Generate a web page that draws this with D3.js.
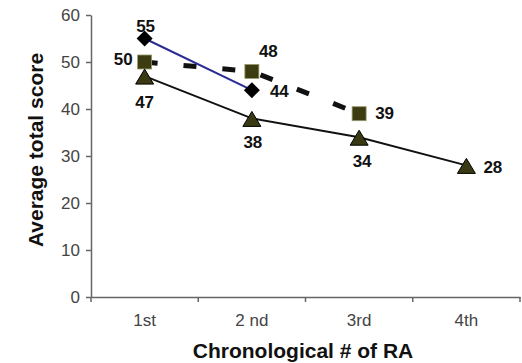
<!DOCTYPE html>
<html>
<head>
<meta charset="utf-8">
<script src="https://cdn.jsdelivr.net/npm/d3@7"></script>
<style>
  body { margin: 0; background: #fff; }
  svg { display: block; font-family: Arial, "Liberation Sans", sans-serif; }
</style>
</head>
<body>
<svg id="chart" width="522" height="363"></svg>
<script>
const categories = ["1st", "2 nd", "3rd", "4th"];
const diamondValues = [55, 44];
const squareValues = [50, 48, 39];
const triangleValues = [47, 38, 34, 28];
const yTicks = [0, 10, 20, 30, 40, 50, 60];

const svg = d3.select("#chart");
const margin = { left: 91, right: 2, top: 15, bottom: 66 };
const width = 522, height = 363;

const x = d3.scaleBand().domain(categories).range([margin.left, width - margin.right]);
const y = d3.scaleLinear().domain([0, 60]).range([height - margin.bottom, margin.top]);
const cx = d => x(d) + x.bandwidth() / 2;

// axes
const yAxis = svg.append("g")
  .attr("transform", `translate(${margin.left},0)`)
  .call(d3.axisLeft(y).tickValues(yTicks).tickSize(5).tickPadding(6).tickSizeOuter(0));
yAxis.select(".domain").attr("stroke", "#666").attr("stroke-width", 1.5);
yAxis.selectAll(".tick line").attr("stroke", "#666").attr("stroke-width", 1.5);
yAxis.selectAll("text").attr("font-size", 17).attr("fill", "#444").attr("font-family", "Arial, sans-serif");

const xAxis = svg.append("g")
  .attr("transform", `translate(0,${y(0)})`)
  .call(d3.axisBottom(x).tickSize(0).tickSizeOuter(0));
xAxis.select(".domain").attr("stroke", "#666").attr("stroke-width", 1.5);
xAxis.selectAll("text").attr("font-size", 17).attr("fill", "#444")
  .attr("font-family", "Arial, sans-serif").attr("y", 29).attr("dy", 0);
// tick marks at band boundaries
const bounds = categories.map(c => x(c)).concat([x(categories[categories.length - 1]) + x.bandwidth()]);
xAxis.selectAll(".bnd").data(bounds).join("line")
  .attr("x1", d => d).attr("x2", d => d).attr("y1", 0).attr("y2", 5)
  .attr("stroke", "#666").attr("stroke-width", 1.5);

svg.append("text")
  .attr("transform", `translate(43,150) rotate(-90)`)
  .attr("text-anchor", "middle").attr("font-size", 21).attr("font-weight", "bold").attr("fill", "#111")
  .text("Average total score");
svg.append("text")
  .attr("x", 303).attr("y", 358)
  .attr("text-anchor", "middle").attr("font-size", 21).attr("font-weight", "bold").attr("fill", "#111")
  .text("Chronological # of RA");

const line = d3.line().x((d, i) => cx(categories[i])).y(d => y(d));

// lines
svg.append("path").datum(triangleValues).attr("d", line)
  .attr("fill", "none").attr("stroke", "#111").attr("stroke-width", 2);
svg.append("path").datum(squareValues).attr("d", line)
  .attr("fill", "none").attr("stroke", "#111").attr("stroke-width", 5)
  .attr("stroke-dasharray", "13,26");
svg.append("path").datum(diamondValues).attr("d", line)
  .attr("fill", "none").attr("stroke", "#2b2b95").attr("stroke-width", 2);

// markers
svg.selectAll(".sq").data(squareValues).join("rect")
  .attr("x", (d, i) => cx(categories[i]) - 7).attr("y", d => y(d) - 7)
  .attr("width", 14).attr("height", 14)
  .attr("fill", "#3c3c10").attr("stroke", "#9a9a70").attr("stroke-width", 0.8);

svg.selectAll(".tri").data(triangleValues).join("path")
  .attr("transform", (d, i) => `translate(${cx(categories[i])},${y(d) + 1})`)
  .attr("d", "M0,-8L9,7L-9,7Z")
  .attr("fill", "#3a3a12").attr("stroke", "#000").attr("stroke-width", 1);

svg.selectAll(".dia").data(diamondValues).join("path")
  .attr("transform", (d, i) => `translate(${cx(categories[i])},${y(d)})`)
  .attr("d", "M0,-8L8,0L0,8L-8,0Z")
  .attr("fill", "#000");

// value labels
const labels = [
  { v: diamondValues[0], i: 0, dx: 1, dy: -7, anchor: "middle" },
  { v: diamondValues[1], i: 1, dx: 18, dy: 7, anchor: "start" },
  { v: squareValues[0], i: 0, dx: -12, dy: 3, anchor: "end" },
  { v: squareValues[1], i: 1, dx: 7, dy: -14, anchor: "start" },
  { v: squareValues[2], i: 2, dx: 16, dy: 5, anchor: "start" },
  { v: triangleValues[0], i: 0, dx: 0, dy: 32, anchor: "middle" },
  { v: triangleValues[1], i: 1, dx: 1, dy: 30, anchor: "middle" },
  { v: triangleValues[2], i: 2, dx: 3, dy: 30, anchor: "middle" },
  { v: triangleValues[3], i: 3, dx: 17, dy: 8, anchor: "start" }
];
svg.selectAll(".lbl").data(labels).join("text")
  .attr("x", d => cx(categories[d.i]) + d.dx).attr("y", d => y(d.v) + d.dy)
  .attr("text-anchor", d => d.anchor)
  .attr("font-size", 17).attr("font-weight", "bold").attr("fill", "#111")
  .text(d => d.v);
</script>
</body>
</html>
